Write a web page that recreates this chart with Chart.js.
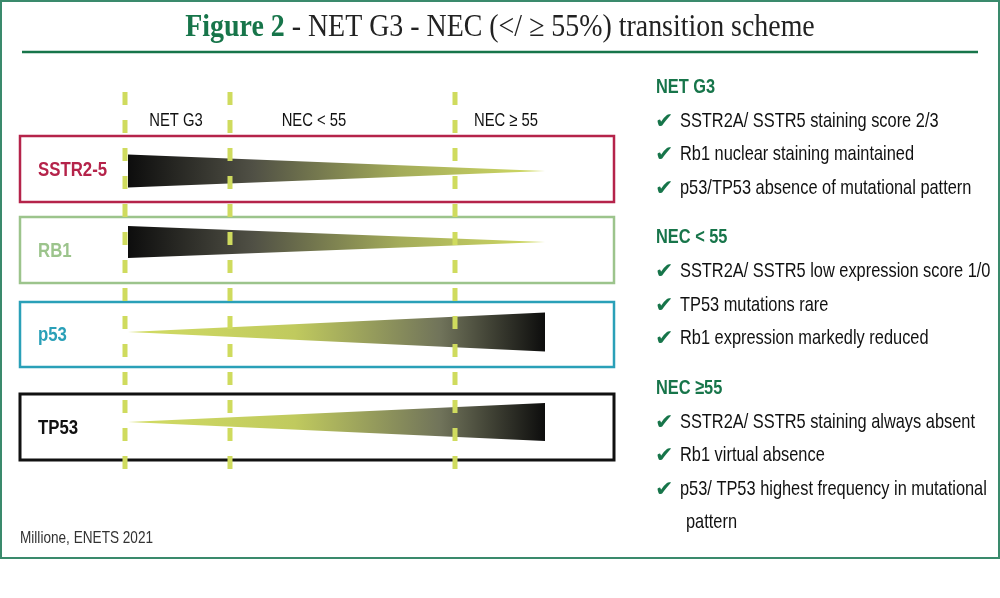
<!DOCTYPE html>
<html>
<head>
<meta charset="utf-8">
<script src="https://cdn.jsdelivr.net/npm/chart.js@4"></script>
<style>
  html, body { margin: 0; padding: 0; background: #fff; }
  #wrap { width: 1000px; height: 598px; position: relative; }
</style>
</head>
<body>
<div id="wrap"><canvas id="scheme" width="1000" height="598"></canvas></div>
<script>
// stages (x axis: 0..100 across the diagram)
var stages = ['NET G3', 'NEC < 55', 'NEC \u2265 55'];
var stageBounds = [17.5, 35, 72.5];
var stageLabelX = [26, 49, 81];

// markers (y axis: 0..44, top to bottom)
var markers = ['SSTR2-5', 'RB1', 'p53', 'TP53'];
var markerColors = ['#b5234a', '#9cc48c', '#2aa0b8', '#111111'];
var rowCenter = [11.1, 18.2, 27.2, 36.2];
var boxTop = [7.6, 15.7, 24.2, 33.4];
var boxBottom = [14.2, 22.3, 30.7, 40.0];
// wedge thickness at start (NET G3) and end (NEC >= 55)
var widthStart = [3.3, 3.2, 0, 0];
var widthEnd = [0, 0, 3.9, 3.8];
var wedgeStart = 18;
var wedgeEnd = 87.5;

var notes = [
  ['NET G3', ['SSTR2A/ SSTR5 staining score 2/3', 'Rb1 nuclear staining maintained', 'p53/TP53 absence of mutational pattern']],
  ['NEC < 55', ['SSTR2A/ SSTR5 low expression score 1/0', 'TP53 mutations rare', 'Rb1 expression markedly reduced']],
  ['NEC \u226555', ['SSTR2A/ SSTR5 staining always absent', 'Rb1 virtual absence', 'p53/ TP53 highest frequency in mutational', 'pattern']]
];

var GREEN = '#17754a';
var LIME = '#cfdb5e';
var SANS = '"Liberation Sans", Arial, sans-serif';

// condensed text: squeeze horizontally
function ctext(c, s, x, y, font, color, sx, align) {
  c.save();
  c.font = font; c.fillStyle = color;
  c.textAlign = align || 'left'; c.textBaseline = 'middle';
  c.translate(x, y); c.scale(sx, 1);
  c.fillText(s, 0, 0);
  c.restore();
}

function wedgeFill(i) {
  return function (ctx) {
    var chart = ctx.chart;
    if (!chart.chartArea) return LIME;
    var xs = chart.scales.x;
    var g = chart.ctx.createLinearGradient(xs.getPixelForValue(wedgeStart), 0, xs.getPixelForValue(wedgeEnd), 0);
    if (widthStart[i] > widthEnd[i]) {
      g.addColorStop(0, '#0d0d0d');
      g.addColorStop(0.3, '#505045');
      g.addColorStop(0.65, '#a3ab5a');
      g.addColorStop(1, '#d2dc64');
    } else {
      g.addColorStop(0, '#d2dc64');
      g.addColorStop(0.4, '#c0ca5e');
      g.addColorStop(0.75, '#70735a');
      g.addColorStop(1, '#0d0d0d');
    }
    return g;
  };
}

var datasets = [];
// dashed stage boundaries
stageBounds.forEach(function (b) {
  datasets.push({
    data: [{ x: b, y: 3.2 }, { x: b, y: 42.2 }],
    borderColor: LIME, borderWidth: 5, borderDash: [13, 15],
    pointRadius: 0, fill: false, order: 0
  });
});
// wedges: top edge, then bottom edge filled to top edge
markers.forEach(function (m, i) {
  datasets.push({
    data: [{ x: wedgeStart, y: rowCenter[i] - widthStart[i] / 2 }, { x: wedgeEnd, y: rowCenter[i] - widthEnd[i] / 2 }],
    borderWidth: 0, borderColor: 'rgba(0,0,0,0)', pointRadius: 0, fill: false, order: 1
  });
  datasets.push({
    data: [{ x: wedgeStart, y: rowCenter[i] + widthStart[i] / 2 }, { x: wedgeEnd, y: rowCenter[i] + widthEnd[i] / 2 }],
    borderWidth: 0, borderColor: 'rgba(0,0,0,0)', pointRadius: 0,
    fill: '-1', backgroundColor: wedgeFill(i), order: 1
  });
});

var decor = {
  id: 'decor',
  beforeDraw: function (chart) {
    var c = chart.ctx;
    c.save();
    c.fillStyle = '#fff';
    c.fillRect(0, 0, chart.width, chart.height);
    c.strokeStyle = '#3a8a6c'; c.lineWidth = 2;
    c.strokeRect(1, 1, 998, 557);
    c.strokeStyle = GREEN; c.lineWidth = 2.5;
    c.beginPath(); c.moveTo(22, 52); c.lineTo(978, 52); c.stroke();
    var xs = chart.scales.x, ys = chart.scales.y;
    markers.forEach(function (m, i) {
      var t = ys.getPixelForValue(boxTop[i]), b = ys.getPixelForValue(boxBottom[i]);
      c.strokeStyle = markerColors[i]; c.lineWidth = i === 3 ? 3 : 2.5;
      c.strokeRect(xs.getPixelForValue(0), t, xs.getPixelForValue(99) - xs.getPixelForValue(0), b - t);
    });
    c.restore();
  },
  afterDraw: function (chart) {
    var c = chart.ctx, xs = chart.scales.x, ys = chart.scales.y;
    // title
    var t1 = 'Figure 2', t2 = ' - NET G3 - NEC (</ \u2265 55%) transition scheme';
    var f1 = 'bold 31px "Liberation Serif", serif', f2 = '31px "Liberation Serif", serif', sx = 0.9;
    c.save();
    c.font = f1; var w1 = c.measureText(t1).width * sx;
    c.font = f2; var w2 = c.measureText(t2).width * sx;
    c.restore();
    var x0 = 500 - (w1 + w2) / 2;
    ctext(c, t1, x0, 28, f1, GREEN, sx);
    ctext(c, t2, x0 + w1, 28, f2, '#222', sx);
    // stage labels
    stages.forEach(function (s, i) {
      ctext(c, s, xs.getPixelForValue(stageLabelX[i]), 121, '19px ' + SANS, '#111', 0.78, 'center');
    });
    // marker labels
    markers.forEach(function (m, i) {
      ctext(c, m, 38, ys.getPixelForValue((boxTop[i] + boxBottom[i]) / 2) + 1, 'bold 21px ' + SANS, markerColors[i], 0.8);
    });
    ctext(c, 'Millione, ENETS 2021', 20, 538, '17px ' + SANS, '#333', 0.8);
    // notes panel
    var y = 87;
    notes.forEach(function (n) {
      ctext(c, n[0], 656, y, 'bold 21px ' + SANS, GREEN, 0.78);
      y += 34;
      n[1].forEach(function (line) {
        if (line === 'pattern') {
          ctext(c, line, 686, y, '21px ' + SANS, '#111', 0.78);
          y += 34; return;
        }
        ctext(c, '\u2714', 655, y + 1, 'bold 22px "DejaVu Sans", sans-serif', GREEN, 1);
        ctext(c, line, 680, y, '21px ' + SANS, '#111', 0.78);
        y += 33.5;
      });
      y += 16;
    });
  }
};

new Chart(document.getElementById('scheme'), {
  type: 'scatter',
  data: { datasets: datasets },
  options: {
    responsive: false,
    animation: false,
    showLine: true,
    layout: { padding: { left: 20, right: 380, top: 60, bottom: 98 } },
    scales: {
      x: { type: 'linear', min: 0, max: 100, display: false },
      y: { type: 'linear', min: 0, max: 44, reverse: true, display: false }
    },
    elements: { line: { tension: 0 } },
    plugins: { legend: { display: false }, tooltip: { enabled: false }, title: { display: false } }
  },
  plugins: [decor]
});
</script>
</body>
</html>
